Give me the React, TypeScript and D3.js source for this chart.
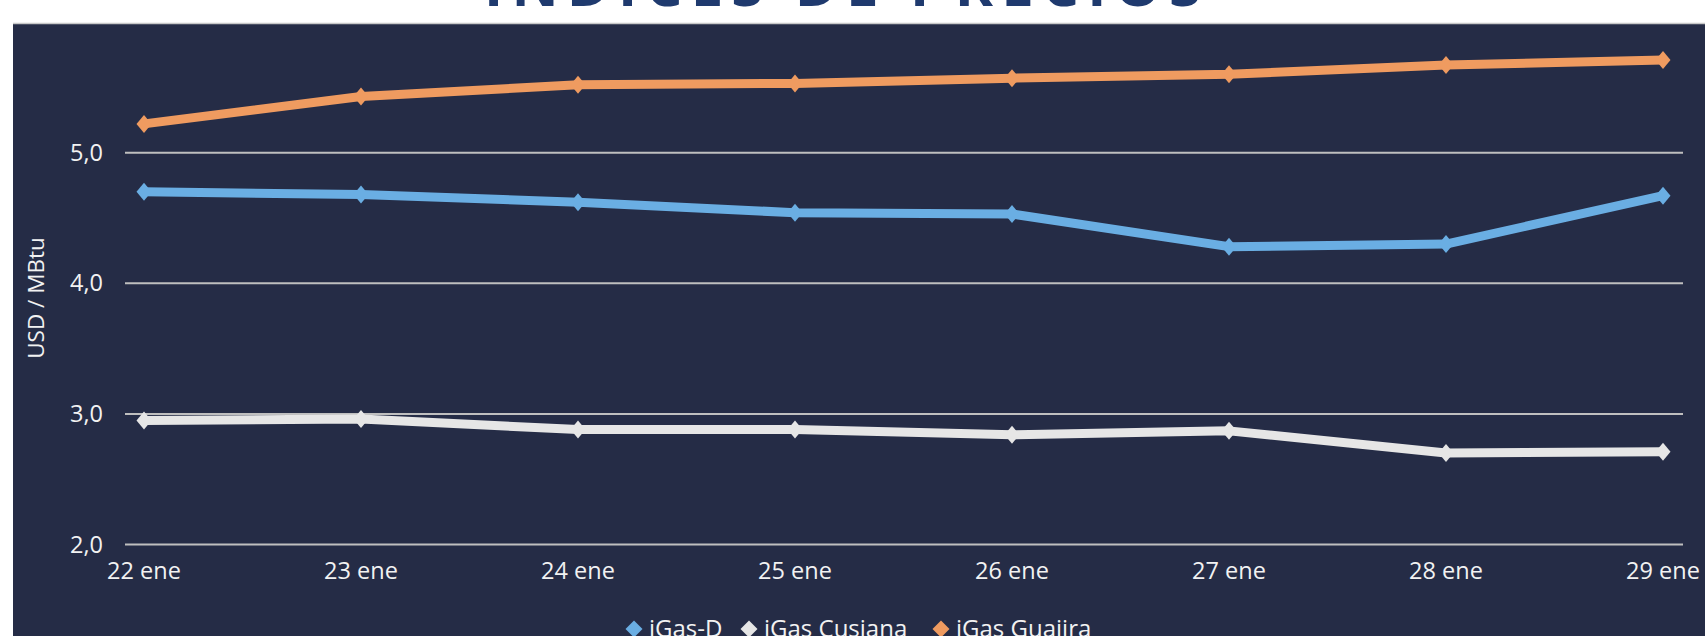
import React, { useEffect, useRef } from 'react';
import * as d3 from 'd3';

const categories = ['22 ene', '23 ene', '24 ene', '25 ene', '26 ene', '27 ene', '28 ene', '29 ene'];

const iGasD = [4.70, 4.68, 4.62, 4.54, 4.53, 4.28, 4.30, 4.67];
const iGasCusiana = [2.95, 2.96, 2.88, 2.88, 2.84, 2.87, 2.70, 2.71];
const iGasGuajira = [5.22, 5.43, 5.52, 5.53, 5.57, 5.60, 5.67, 5.71];

const yTicks = [2, 3, 4, 5];

const seriesNames = ['iGas-D', 'iGas Cusiana', 'iGas Guajira'];
const seriesColors = ['#6AAEE3', '#E6E6E6', '#EF9B60'];

// a diamond a bit wider than d3's own
const wideDiamond = (w: number, h: number) => ({
  draw(ctx: d3.Path) {
    ctx.moveTo(0, -h / 2);
    ctx.lineTo(w / 2, 0);
    ctx.lineTo(0, h / 2);
    ctx.lineTo(-w / 2, 0);
    ctx.closePath();
  },
});

export default function App() {
  const ref = useRef<SVGSVGElement>(null);

  useEffect(() => {
    const width = 1705;
    const height = 636;
    const font = "'Open Sans', 'Noto Sans', sans-serif";

    const svg = d3.select(ref.current);
    svg.selectAll('*').remove();

    svg.append('rect').attr('width', width).attr('height', height).attr('fill', '#ffffff');

    // title, mostly cut off by the top edge
    svg
      .append('text')
      .attr('x', 484)
      .attr('y', 6)
      .attr('textLength', 717)
      .attr('lengthAdjust', 'spacing')
      .attr('font-family', font)
      .attr('font-weight', 700)
      .attr('font-size', 58)
      .attr('fill', '#1F3A6E')
      .text('ÍNDICES DE PRECIOS');

    // dark panel
    svg.append('rect').attr('x', 13).attr('y', 23).attr('width', width - 13).attr('height', height - 23).attr('fill', '#252C46');
    svg.append('line').attr('x1', 13).attr('x2', width).attr('y1', 23.5).attr('y2', 23.5).attr('stroke', '#C8C8C8').attr('stroke-width', 1.5);

    const xScale = d3.scalePoint<string>().domain(categories).range([144, 1663]);
    const yScale = d3.scaleLinear().domain([2, 6]).range([544.5, 22]);

    // gridlines
    svg
      .append('g')
      .selectAll('line')
      .data(yTicks)
      .enter()
      .append('line')
      .attr('x1', 125)
      .attr('x2', 1683)
      .attr('y1', (d) => yScale(d))
      .attr('y2', (d) => yScale(d))
      .attr('stroke', '#BFBFBF')
      .attr('stroke-width', 2);

    // y tick labels
    svg
      .append('g')
      .selectAll('text')
      .data(yTicks)
      .enter()
      .append('text')
      .attr('x', 103)
      .attr('y', (d) => yScale(d))
      .attr('dy', '0.35em')
      .attr('text-anchor', 'end')
      .attr('font-family', font)
      .attr('font-size', 23.5)
      .attr('fill', '#F2F2F2')
      .text((d) => d3.format('.1f')(d).replace('.', ','));

    // x tick labels
    svg
      .append('g')
      .selectAll('text')
      .data(categories)
      .enter()
      .append('text')
      .attr('x', (d) => xScale(d) as number)
      .attr('y', 579)
      .attr('text-anchor', 'middle')
      .attr('font-family', font)
      .attr('font-size', 23.5)
      .attr('fill', '#F2F2F2')
      .text((d) => d);

    // y axis title
    svg
      .append('text')
      .attr('transform', 'translate(36, 298) rotate(-90)')
      .attr('dy', '0.35em')
      .attr('text-anchor', 'middle')
      .attr('font-family', font)
      .attr('font-size', 22.5)
      .attr('fill', '#F2F2F2')
      .text('USD / MBtu');

    const seriesData = [iGasD, iGasCusiana, iGasGuajira];
    const line = d3
      .line<number>()
      .x((_, i) => xScale(categories[i]) as number)
      .y((d) => yScale(d));
    const marker = d3.symbol().type(wideDiamond(15, 18));

    seriesData.forEach((values, s) => {
      const g = svg.append('g');
      g.append('path')
        .attr('d', line(values) as string)
        .attr('fill', 'none')
        .attr('stroke', seriesColors[s])
        .attr('stroke-width', 9)
        .attr('stroke-linejoin', 'round');
      g.selectAll('path.marker')
        .data(values)
        .enter()
        .append('path')
        .attr('class', 'marker')
        .attr('d', marker() as string)
        .attr('transform', (d, i) => `translate(${xScale(categories[i])}, ${yScale(d)})`)
        .attr('fill', seriesColors[s]);
    });

    // legend
    const legendX = [625, 740, 932];
    const legendMarker = d3.symbol().type(wideDiamond(17, 17));
    const legend = svg.append('g');
    seriesNames.forEach((name, i) => {
      legend
        .append('path')
        .attr('d', legendMarker() as string)
        .attr('transform', `translate(${legendX[i] + 9}, 629)`)
        .attr('fill', seriesColors[i]);
      legend
        .append('text')
        .attr('x', legendX[i] + 24)
        .attr('y', 637)
        .attr('font-family', font)
        .attr('font-size', 24)
        .attr('fill', '#F2F2F2')
        .text(name);
    });
  }, []);

  return (
    <div style={{ position: 'absolute', left: 0, top: 0 }}>
      <svg ref={ref} width={1705} height={636} style={{ display: 'block' }} />
    </div>
  );
}
